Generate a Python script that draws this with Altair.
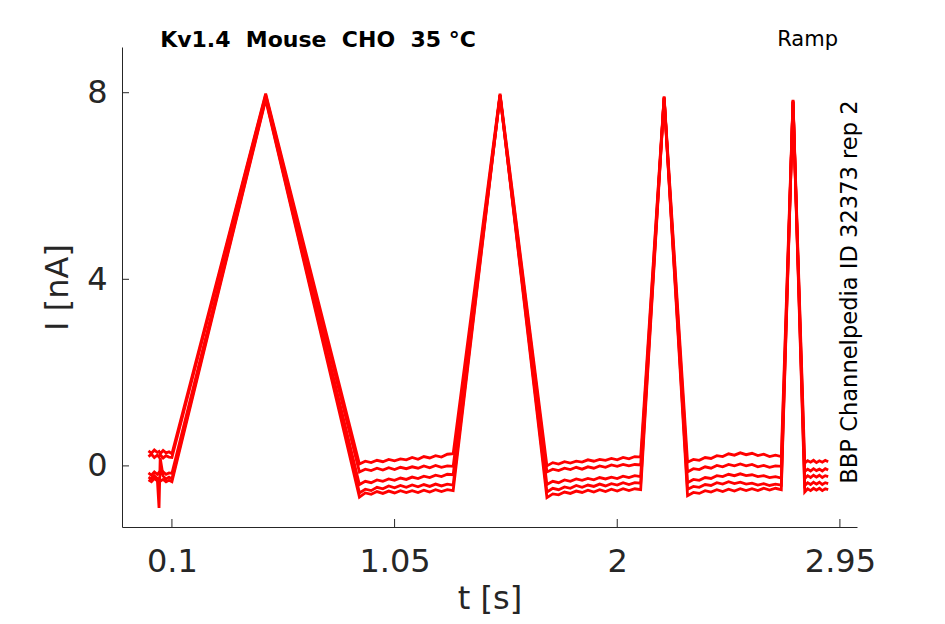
import altair as alt
import pandas as pd

# Shared time base (s)
t = [0.0, 0.0125, 0.025, 0.0375, 0.045, 0.05, 0.0625, 0.075, 0.0875, 0.1,
     0.5,
     0.9, 0.925, 0.95, 0.975, 1.0, 1.025, 1.05, 1.075, 1.1, 1.125, 1.15, 1.175, 1.2, 1.225, 1.25, 1.275, 1.3,
     1.5,
     1.7, 1.725, 1.75, 1.775, 1.8, 1.825, 1.85, 1.875, 1.9, 1.925, 1.95, 1.975, 2.0, 2.025, 2.05, 2.075, 2.1,
     2.2,
     2.3, 2.325, 2.35, 2.375, 2.4, 2.425, 2.45, 2.475, 2.5, 2.525, 2.55, 2.575, 2.6, 2.625, 2.65, 2.675, 2.7,
     2.75,
     2.8, 2.8125, 2.825, 2.8375, 2.85, 2.8625, 2.875, 2.8875, 2.9]

# Current traces (nA), one per sweep
trace1 = [0.32, 0.27, 0.34, 0.29, 0.31, 0.26, 0.33, 0.28, 0.30, 0.26,
          7.98,
          0.04, 0.10, 0.07, 0.12, 0.09, 0.14, 0.11, 0.15, 0.13, 0.18, 0.14, 0.20, 0.17, 0.22, 0.19, 0.25, 0.26,
          7.98,
          0.00, 0.07, 0.04, 0.09, 0.06, 0.10, 0.08, 0.13, 0.10, 0.14, 0.12, 0.16, 0.13, 0.18, 0.15, 0.20, 0.19,
          7.92,
          0.08, 0.14, 0.12, 0.18, 0.16, 0.22, 0.20, 0.26, 0.23, 0.28, 0.24, 0.27, 0.22, 0.25, 0.20, 0.23, 0.20,
          7.85,
          0.06, 0.11, 0.08, 0.12, 0.07, 0.11, 0.08, 0.12, 0.09]
trace2 = [0.20, 0.25, 0.18, 0.23, 0.19, 0.24, 0.17, 0.22, 0.19, 0.18,
          7.95,
          -0.13, -0.07, -0.10, -0.05, -0.09, -0.04, -0.08, -0.03, -0.06, -0.02, -0.05, 0.00, -0.04, 0.01, -0.03, 0.00, -0.01,
          7.95,
          -0.13, -0.07, -0.10, -0.05, -0.08, -0.03, -0.07, -0.02, -0.05, 0.00, -0.03, 0.02, -0.01, 0.03, 0.00, 0.03, 0.02,
          7.90,
          -0.13, -0.06, -0.08, -0.02, -0.05, 0.01, -0.02, 0.03, 0.00, 0.04, 0.00, 0.03, -0.02, 0.01, -0.03, 0.00, -0.01,
          7.82,
          -0.12, -0.07, -0.11, -0.06, -0.10, -0.07, -0.11, -0.06, -0.09]
trace3 = [-0.15, -0.20, -0.13, -0.18, -0.14, -0.19, -0.13, -0.18, -0.15, -0.16,
          7.90,
          -0.40, -0.33, -0.36, -0.30, -0.33, -0.28, -0.31, -0.26, -0.29, -0.24, -0.27, -0.22, -0.25, -0.20, -0.23, -0.18, -0.19,
          7.92,
          -0.40, -0.33, -0.36, -0.30, -0.33, -0.28, -0.31, -0.27, -0.30, -0.25, -0.28, -0.24, -0.27, -0.22, -0.25, -0.21, -0.23,
          7.88,
          -0.36, -0.29, -0.31, -0.25, -0.27, -0.21, -0.23, -0.18, -0.21, -0.17, -0.21, -0.19, -0.23, -0.21, -0.25, -0.23, -0.26,
          7.80,
          -0.27, -0.21, -0.25, -0.20, -0.24, -0.20, -0.25, -0.21, -0.23]
trace4 = [-0.24, -0.28, -0.21, -0.27, -0.90, 0.17, -0.22, -0.28, -0.24, -0.28,
          7.88,
          -0.58, -0.50, -0.53, -0.46, -0.49, -0.43, -0.47, -0.42, -0.46, -0.41, -0.45, -0.40, -0.44, -0.39, -0.43, -0.39, -0.41,
          7.95,
          -0.56, -0.48, -0.51, -0.45, -0.48, -0.42, -0.46, -0.41, -0.44, -0.39, -0.43, -0.38, -0.41, -0.36, -0.40, -0.36, -0.37,
          7.90,
          -0.50, -0.44, -0.46, -0.40, -0.42, -0.36, -0.39, -0.34, -0.38, -0.35, -0.39, -0.37, -0.41, -0.38, -0.42, -0.39, -0.41,
          7.83,
          -0.42, -0.36, -0.40, -0.35, -0.39, -0.35, -0.40, -0.36, -0.38]
trace5 = [-0.30, -0.34, -0.27, -0.32, -0.28, -0.33, -0.29, -0.34, -0.31, -0.34,
          7.85,
          -0.67, -0.58, -0.61, -0.55, -0.59, -0.54, -0.58, -0.53, -0.57, -0.53, -0.57, -0.52, -0.56, -0.51, -0.55, -0.51, -0.53,
          7.95,
          -0.68, -0.60, -0.62, -0.56, -0.59, -0.54, -0.57, -0.52, -0.56, -0.51, -0.55, -0.50, -0.54, -0.49, -0.53, -0.49, -0.51,
          7.88,
          -0.64, -0.57, -0.59, -0.53, -0.56, -0.51, -0.55, -0.50, -0.54, -0.49, -0.53, -0.49, -0.53, -0.48, -0.52, -0.48, -0.51,
          7.80,
          -0.56, -0.49, -0.53, -0.48, -0.52, -0.48, -0.53, -0.49, -0.51]

x_ticks = [0.1, 1.05, 2, 2.95]
y_ticks = [0, 4, 8]
title_text = "Kv1.4\u00a0 Mouse\u00a0 CHO\u00a0 35 °C"
protocol_text = "Ramp"
id_text = "BBP Channelpedia ID 32373 rep 2"

rows = []
for name, tr in [("1", trace1), ("2", trace2), ("3", trace3), ("4", trace4), ("5", trace5)]:
    for ti, vi in zip(t, tr):
        rows.append({"t": ti, "I": vi, "sweep": name})
df = pd.DataFrame(rows)

W, H = 735, 480
AX = "#262626"
FONT = "DejaVu Sans"

xscale = alt.Scale(domain=[-0.113, 3.023], nice=False, zero=False)
yscale = alt.Scale(domain=[-1.31, 8.98], nice=False, zero=False)

lines = alt.Chart(df).mark_line(color="#ff0000", strokeWidth=2.8, clip=True).encode(
    x=alt.X("t:Q", scale=xscale,
            axis=alt.Axis(values=x_ticks, title="t [s]", labelExpr="format(datum.value, '')",
                          ticks=False, grid=False, labelPadding=19, titlePadding=6,
                          labelFontSize=32, titleFontSize=32, labelFont=FONT, titleFont=FONT,
                          labelColor=AX, titleColor=AX, titleFontWeight="normal",
                          domainColor=AX, labelFlush=False)),
    y=alt.Y("I:Q", scale=yscale,
            axis=alt.Axis(values=y_ticks, title="I [nA]", ticks=False, grid=False,
                          labelPadding=15, titlePadding=12,
                          labelFontSize=32, titleFontSize=32, labelFont=FONT, titleFont=FONT,
                          labelColor=AX, titleColor=AX, titleFontWeight="normal",
                          domainColor=AX, labelFlush=False)),
    detail="sweep:N",
)

xt = alt.Chart(pd.DataFrame({"v": x_ticks})).mark_rule(color=AX, strokeWidth=1).encode(
    x=alt.X("v:Q", scale=xscale), y=alt.value(H), y2=alt.value(H - 8))
yt = alt.Chart(pd.DataFrame({"v": y_ticks})).mark_rule(color=AX, strokeWidth=1).encode(
    y=alt.Y("v:Q", scale=yscale), x=alt.value(0), x2=alt.value(7))

title = alt.Chart(pd.DataFrame({"s": [title_text]})).mark_text(
    font=FONT, fontSize=22, fontWeight="bold", color="#000000", align="center", baseline="middle"
).encode(text="s:N", x=alt.value(196), y=alt.value(-7))
ramp = alt.Chart(pd.DataFrame({"s": [protocol_text]})).mark_text(
    font=FONT, fontSize=21, color="#000000", align="right", baseline="middle"
).encode(text="s:N", x=alt.value(716), y=alt.value(-7))
idt = alt.Chart(pd.DataFrame({"s": [id_text]})).mark_text(
    font=FONT, fontSize=22.6, color="#000000", align="center", baseline="middle", angle=270
).encode(text="s:N", x=alt.value(728), y=alt.value(245))

chart = alt.layer(lines, xt, yt, title, ramp, idt).properties(
    width=W, height=H,
    autosize=alt.AutoSizeParams(type="none"),
    padding={"left": 114, "top": 39, "right": 80, "bottom": 89},
).configure_view(stroke=None).configure_axis(domainWidth=1)

chart.save("out.html", embed_options={"renderer": "svg", "actions": False})
